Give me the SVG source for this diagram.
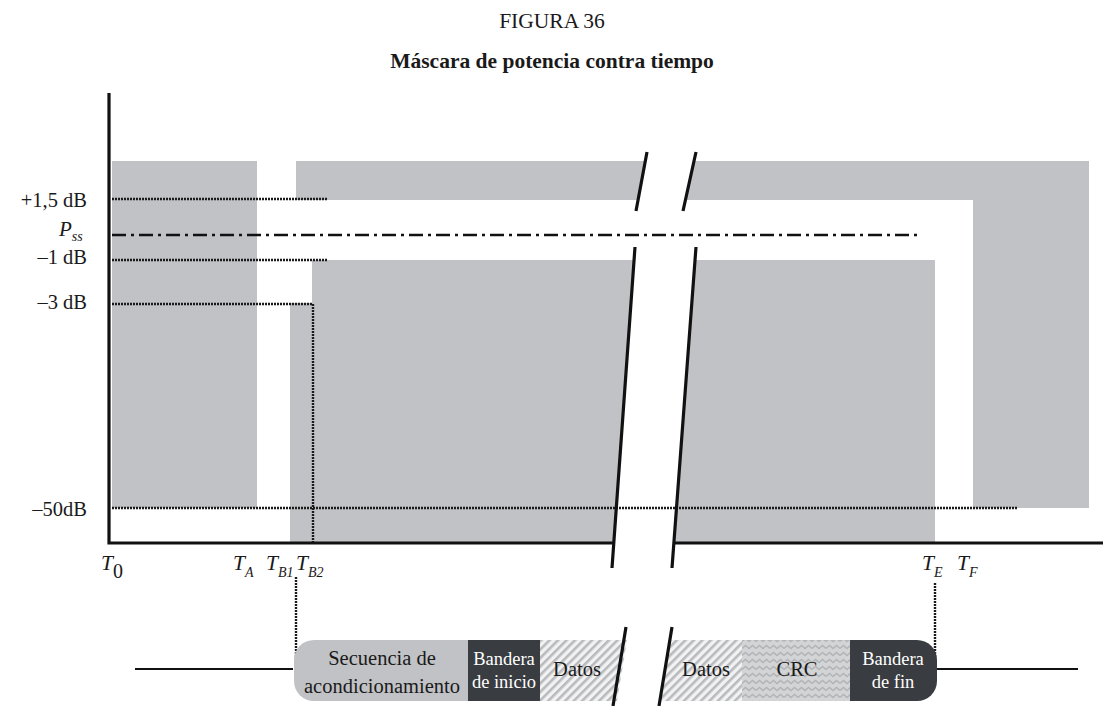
<svg xmlns="http://www.w3.org/2000/svg" width="1105" height="706" viewBox="0 0 1105 706">
<style>
.t{font-family:"Liberation Serif","Times New Roman",serif;fill:#1a1a1a}
.lbl{font-size:20.5px;text-anchor:end}
.it{font-style:italic}
.sub{font-size:14px}
.g{fill:#c1c2c6}
.dot{stroke:#1a1a1a;stroke-width:2.4;stroke-dasharray:2 1;fill:none}
.brk{stroke:#111;stroke-width:3.2;fill:none}
.ax{stroke:#111;stroke-width:3.2;fill:none}
.bw{font-family:"Liberation Serif","Times New Roman",serif;font-size:18.5px;fill:#fff;text-anchor:middle}
.bk{font-family:"Liberation Serif","Times New Roman",serif;font-size:20.5px;fill:#1a1a1a;text-anchor:middle}
</style>
<defs>
<pattern id="hatch" width="6" height="6" patternUnits="userSpaceOnUse" patternTransform="rotate(45)">
<rect width="6" height="6" fill="#f2f2f3"/>
<rect width="2.6" height="6" fill="#b9babd"/>
</pattern>
<pattern id="wave" width="14" height="7" patternUnits="userSpaceOnUse">
<rect width="14" height="7" fill="#d3d4d6"/>
<path d="M0 4.5 L3.5 1.5 L7 4.5 L10.5 1.5 L14 4.5" stroke="#b3b4b7" stroke-width="1.6" fill="none"/>
</pattern>
</defs>

<text class="t" x="552" y="28" font-size="21.5" text-anchor="middle">FIGURA 36</text>
<text class="t" x="552" y="68" font-size="21.5" font-weight="bold" text-anchor="middle">Máscara de potencia contra tiempo</text>

<g id="mask">
<rect class="g" x="112" y="161" width="145" height="347"/>
<polygon class="g" points="296,161 645.3,161 638,200 296,200"/>
<polygon class="g" points="694,161 1089,161 1089,508 973,508 973,200 685.4,200"/>
<polygon class="g" points="312,260 634.1,260 613.8,543 290,543 290,303 312,303"/>
<polygon class="g" points="695.1,260 935,260 935,543 674.8,543"/>
</g>

<g id="levels">
<path class="dot" d="M112 199 H327 M112 260 H327 M112 304 H313 V543 M112 508 H1018"/>
<path d="M112 235 H922" stroke="#111" stroke-width="2.4" stroke-dasharray="14 5 3 5" fill="none"/>
</g>

<g id="axes">
<path class="ax" d="M109 93 V544.5 M107.5 543 H613.8 M674.8 543 H1103"/>
<path class="brk" d="M647 152 L636 211 M696 152 L683 211 M635 247 L612 568 M696 247 L672 568"/>
</g>

<g id="ylabels">
<text class="t lbl" x="87" y="207">+1,5 dB</text>
<text class="t" x="59" y="236" font-size="21" font-style="italic">P<tspan class="sub" dy="5">ss</tspan></text>
<text class="t lbl" x="87" y="264">–1 dB</text>
<text class="t lbl" x="87" y="309">–3 dB</text>
<text class="t lbl" x="87" y="516">–50dB</text>
</g>

<g id="xlabels" font-size="21.5">
<text class="t it" x="101" y="570">T<tspan font-size="20" font-style="normal" dy="8">0</tspan></text>
<text class="t it" x="233" y="570">T<tspan class="sub" dy="7">A</tspan></text>
<text class="t it" x="266" y="570">T<tspan class="sub" dy="7">B1</tspan></text>
<text class="t it" x="296" y="570">T<tspan class="sub" dy="7">B2</tspan></text>
<text class="t it" x="922" y="570">T<tspan class="sub" dy="7">E</tspan></text>
<text class="t it" x="957" y="570">T<tspan class="sub" dy="7">F</tspan></text>
</g>

<g id="connectors">
<path class="dot" d="M296 577 V658 M935 583 V669"/>
<path d="M135 669 H293 M937 669 H1078" stroke="#111" stroke-width="2" fill="none"/>
</g>

<g id="frame">
<g id="seq">
<path d="M468 640 H314 A20 20 0 0 0 294 660 V681 A20 20 0 0 0 314 701 H468 Z" fill="#c1c2c6"/>
<text class="bk" x="382" y="665">Secuencia de</text>
<text class="bk" x="382" y="693">acondicionamiento</text>
</g>
<g id="flag-start">
<rect x="468" y="640" width="72" height="61" fill="#393c40"/>
<text class="bw" x="504" y="665">Bandera</text>
<text class="bw" x="504" y="688">de inicio</text>
</g>
<g id="data1">
<polygon points="540,640 627,640 617,701 540,701" fill="url(#hatch)"/>
<text class="bk" x="577" y="676">Datos</text>
</g>
<g id="data2">
<polygon points="669,640 742,640 742,701 660,701" fill="url(#hatch)"/>
<text class="bk" x="706" y="676">Datos</text>
</g>
<g id="crc">
<rect x="742" y="640" width="108" height="61" fill="url(#wave)"/>
<text class="bk" x="797" y="676">CRC</text>
</g>
<g id="flag-end">
<path d="M850 640 H917 A20 20 0 0 1 937 660 V681 A20 20 0 0 1 917 701 H850 Z" fill="#393c40"/>
<text class="bw" x="893" y="665">Bandera</text>
<text class="bw" x="893" y="688">de fin</text>
</g>
<path class="brk" d="M626 627 L613 706 M672 627 L659 706"/>
</g>
</svg>
